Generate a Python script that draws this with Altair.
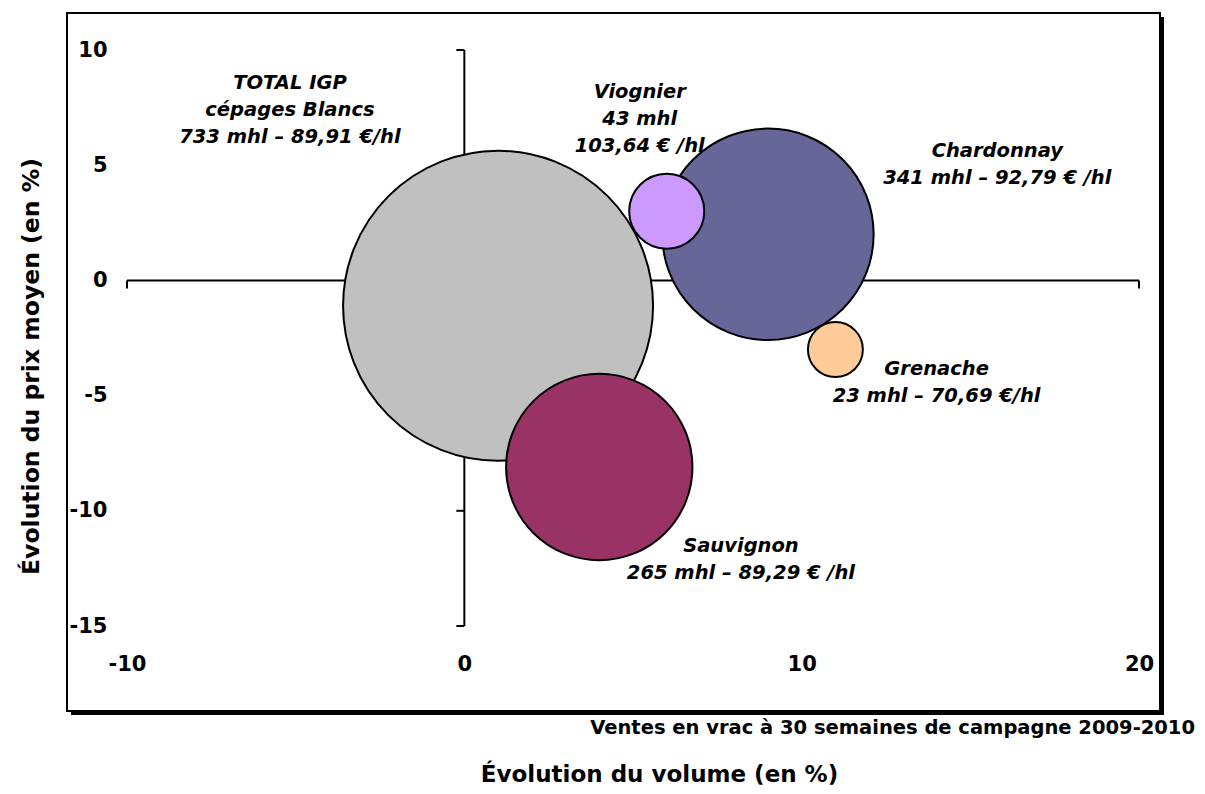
import altair as alt
import pandas as pd

# ---- data ----
names = ["TOTAL IGP cépages Blancs", "Chardonnay", "Viognier", "Grenache", "Sauvignon"]
volume_change = [1.0, 9.0, 6.0, 11.0, 4.0]      # Évolution du volume (en %)
price_change = [-1.1, 2.0, 3.0, -3.0, -8.1]      # Évolution du prix moyen (en %)
volume_mhl = [733, 341, 43, 23, 265]             # bubble size (mhl)
colors = ["#C0C0C0", "#666699", "#CC99FF", "#FFCC99", "#993366"]
labels = [
    "TOTAL IGP\ncépages Blancs\n733 mhl – 89,91 €/hl",
    "Chardonnay\n341 mhl – 92,79 € /hl",
    "Viognier\n43 mhl\n103,64 € /hl",
    "Grenache\n23 mhl – 70,69 €/hl",
    "Sauvignon\n265 mhl – 89,29 € /hl",
]
# anchor of each label's first line (data units)
label_x = [-5.17, 15.8, 5.2, 14.0, 8.2]
label_y = [8.57, 5.6, 8.17, -3.83, -11.52]
x_ticks = [-10, 0, 10, 20]
y_ticks = [-15, -10, -5, 0, 5, 10]
x_title = "Évolution du volume (en %)"
y_title = "Évolution du prix moyen (en %)"
source_note = "Ventes en vrac à 30 semaines de campagne 2009-2010"

FONT = "DejaVu Sans"

bubbles = pd.DataFrame({
    "name": names, "vol": volume_change, "prix": price_change,
    "mhl": volume_mhl, "idx": list(range(len(names))),
})
lab = pd.DataFrame({"lx": label_x, "ly": label_y, "txt": labels})
xt = pd.DataFrame({"x": x_ticks, "y": [0] * len(x_ticks)})
yt = pd.DataFrame({"y": y_ticks, "x": [0] * len(y_ticks)})
xline = pd.DataFrame({"x1": [x_ticks[0]], "x2": [x_ticks[-1]], "y": [0]})
yline = pd.DataFrame({"y1": [y_ticks[0]], "y2": [y_ticks[-1]], "x": [0]})
one = pd.DataFrame({"note": [source_note]})

xs = alt.Scale(domain=[x_ticks[0], x_ticks[-1]], nice=False, zero=False)
ys = alt.Scale(domain=[y_ticks[0], y_ticks[-1]], nice=False, zero=False)

x_axis = alt.Axis(values=x_ticks, labelExpr="toString(datum.value)",
                  labelPadding=27, tickSize=0,
                  labelFlush=False, labelOverlap=False, zindex=2,
                  titleX=532, titleY=155, titleAlign="center",
                  titleBaseline="alphabetic", titleFontSize=23)
y_axis = alt.Axis(values=y_ticks, labelExpr="toString(datum.value)",
                  labelPadding=20, tickSize=0,
                  labelFlush=False, labelOverlap=False, zindex=2,
                  titleX=-89, titleY=316, titleAngle=270, titleAlign="center",
                  titleBaseline="alphabetic", titleFontSize=23.5)


def X(f):
    return alt.X(f, type="quantitative", scale=xs, axis=x_axis, title=x_title)


def Y(f):
    return alt.Y(f, type="quantitative", scale=ys, axis=y_axis, title=y_title)


frame_data = alt.Chart(pd.DataFrame({"a": [0]}))
shadow_r = frame_data.mark_rect(fill="black").encode(
    x=alt.value(1033), x2=alt.value(1037), y=alt.value(-33), y2=alt.value(665))
shadow_b = frame_data.mark_rect(fill="black").encode(
    x=alt.value(-56), x2=alt.value(1037), y=alt.value(661), y2=alt.value(665))
frame = frame_data.mark_rect(fillOpacity=0, stroke="black", strokeWidth=2).encode(
    x=alt.value(-60), x2=alt.value(1033), y=alt.value(-37), y2=alt.value(661))

hline = alt.Chart(xline).mark_rule(color="black", strokeWidth=2).encode(
    x=X("x1"), x2="x2:Q", y=Y("y"))
vline = alt.Chart(yline).mark_rule(color="black", strokeWidth=2).encode(
    y=Y("y1"), y2="y2:Q", x=X("x"))
xticks = alt.Chart(xt).mark_tick(orient="vertical", size=8, thickness=2,
                                 color="black", yOffset=4, opacity=1).encode(
    x=X("x"), y=Y("y"))
yticks = alt.Chart(yt).mark_tick(orient="horizontal", size=8, thickness=2,
                                 color="black", xOffset=-4, opacity=1).encode(
    x=X("x"), y=Y("y"))

# Vega circle symbols: radius = sqrt(size)/2  -> size = (2r)^2
points = alt.Chart(bubbles).mark_circle(stroke="black", strokeWidth=2, opacity=1).encode(
    x=X("vol"), y=Y("prix"),
    size=alt.Size("mhl:Q", scale=alt.Scale(domain=[0, 733], range=[0, 96100]), legend=None),
    color=alt.Color("name:N", scale=alt.Scale(domain=names, range=colors), legend=None),
    order=alt.Order("idx:Q"),
)

texts = alt.Chart(lab).mark_text(
    font=FONT, fontWeight="bold", fontStyle="italic", fontSize=19.5,
    lineHeight=27, lineBreak="\n", align="center", baseline="middle", color="black",
).encode(x=X("lx"), y=Y("ly"), text="txt:N")

note = alt.Chart(one).mark_text(
    font=FONT, fontWeight="bold", fontSize=19.5, align="right",
    baseline="alphabetic", color="black",
).encode(x=alt.value(1068), y=alt.value(684), text="note:N")

chart = alt.layer(shadow_r, shadow_b, frame, hline, vline, xticks, yticks,
                  points, texts, note).properties(
    width=1012, height=576,
    autosize=alt.AutoSizeParams(type="none"),
    padding={"left": 119, "top": 42, "right": 58, "bottom": 160},
    background="white",
).configure_view(strokeWidth=0).configure_axis(
    domain=False, ticks=False, grid=False,
    labelFont=FONT, labelFontWeight="bold", labelFontSize=21, labelColor="black",
    titleFont=FONT, titleFontWeight="bold", titleColor="black",
)

chart.save("out.html", embed_options={"renderer": "svg", "actions": False})
